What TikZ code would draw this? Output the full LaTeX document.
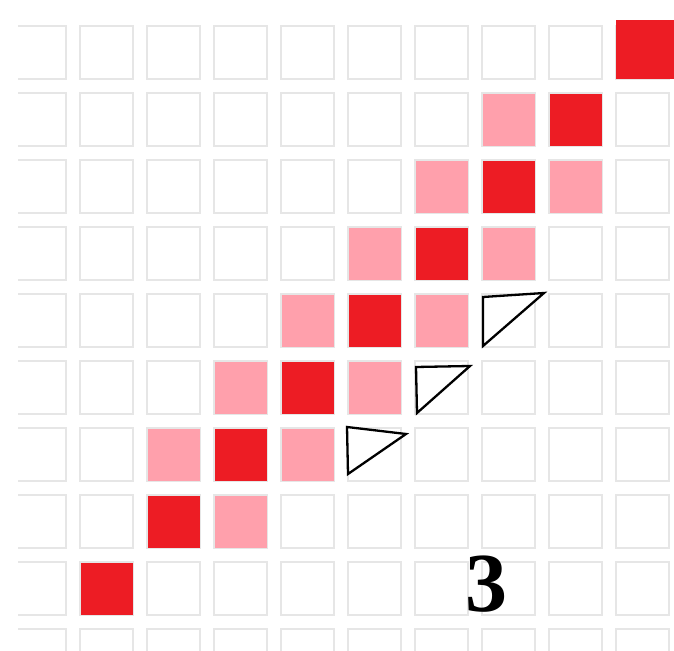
\documentclass[tikz,border=0pt]{standalone}
\usepackage{fontspec}
\setmainfont{Liberation Serif}
\definecolor{cellred}{RGB}{237,28,36}
\definecolor{cellpink}{RGB}{255,160,172}
\definecolor{cellgray}{RGB}{230,230,230}
\tikzset{
  gridcell/.style={draw=cellgray, line width=1.4pt},
  redcell/.style={fill=cellred},
  pinkcell/.style={fill=cellpink},
  tri/.style={draw=black, line width=2.3pt, line join=miter, fill=white}
}
\begin{document}
\begin{tikzpicture}[x=1pt,y=1pt]
\useasboundingbox (0,0) rectangle (674,650);
% px -> (x, 650-y)
\begin{scope}
\clip (18,0) rectangle (674,630);
\foreach \c in {0,...,9}{
  \foreach \r in {0,...,9}{
    \draw[gridcell] ({13+67*\c},{650-26-67*\r}) rectangle ++(53,-53);
  }
}
% red diagonal
\foreach \c/\r in {8/1,7/2,6/3,5/4,4/5,3/6,2/7,1/8}{
  \fill[redcell] ({14+67*\c},{650-27-67*\r}) rectangle ++(52,-52);
}
\fill[redcell] (616,650-20) rectangle (674,650-79);
% pink neighbours
\foreach \c/\r in {7/1,6/2,8/2,5/3,7/3,4/4,6/4,3/5,5/5,2/6,4/6,3/7}{
  \fill[pinkcell] ({14+67*\c},{650-27-67*\r}) rectangle ++(52,-52);
}
\end{scope}
% triangles
\draw[tri] (483,650-297) coordinate (t1a) -- (544,650-293) coordinate (t1b) -- (483,650-346) coordinate (t1c) -- cycle;
\draw[tri] (416,650-367) coordinate (t2a) -- (470,650-366) coordinate (t2b) -- (417,650-413) coordinate (t2c) -- cycle;
\draw[tri] (347,650-427) coordinate (t3a) -- (406,650-434) coordinate (t3b) -- (348,650-474) coordinate (t3c) -- cycle;
% label
\node[inner sep=0pt, font=\fontsize{84}{84}\selectfont\bfseries] (lbl) at (486,650-584) {3};
\end{tikzpicture}
\end{document}
